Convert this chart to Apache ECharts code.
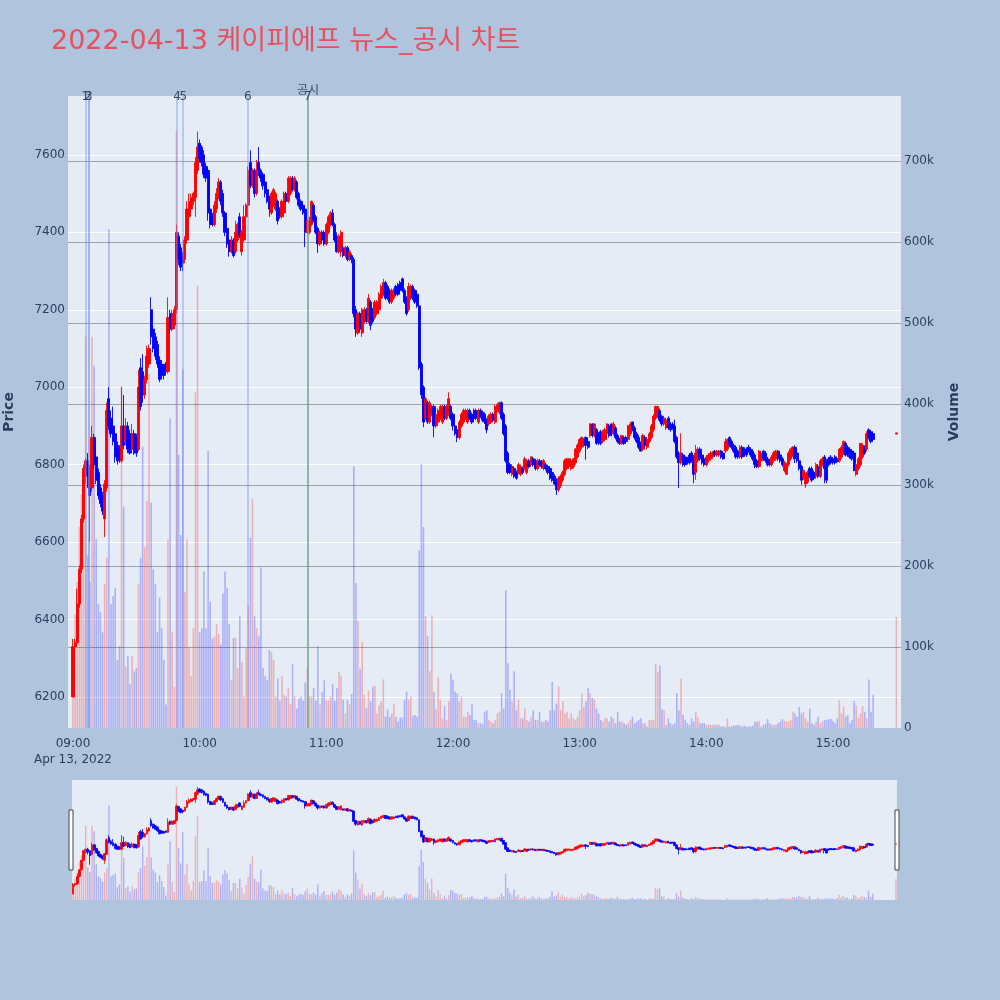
<!DOCTYPE html>
<html>
<head>
<meta charset="utf-8">
<script src="https://cdn.jsdelivr.net/npm/echarts@6/dist/echarts.min.js"></script>
<style>
html,body{margin:0;padding:0;background:#b0c4de;}
#chart{width:1000px;height:1000px;}
</style>
</head>
<body>
<div id="chart"></div>
<script>
// ---------------- DATA ----------------
const chartTitle = '2022-04-13 케이피에프 뉴스_공시 차트';
const dateLabel = 'Apr 13, 2022';
const sessionStartHour = 9;           // first candle = 09:00, one candle per minute
// [open, close, low, high] per minute from 09:00
const candles = [
[6200,6330,6200,6350],[6330,6340,6300,6350],[6340,6440,6330,6480],[6440,6530,6430,6540],[6530,6660,6520,6670],
[6660,6790,6650,6800],[6790,6810,6750,6816],[6810,6770,6740,6830],[6790,6720,6600,6800],[6740,6870,6730,6900],
[6870,6800,6790,6880],[6820,6760,6750,6830],[6780,6720,6710,6790],[6740,6700,6690,6750],[6720,6680,6670,6730],
[6660,6750,6613,6760],[6740,6940,6730,6960],[6970,6900,6890,7000],[6920,6880,6870,6940],[6900,6860,6850,6950],
[6880,6820,6805,6890],[6850,6810,6800,6860],[6840,6810,6805,6850],[6810,6900,6805,7000],[6900,6850,6840,6980],
[6860,6900,6850,6920],[6900,6840,6830,6910],[6880,6830,6826,6890],[6840,6880,6835,6905],[6880,6830,6825,6890],
[6870,6830,6820,6880],[6840,7000,6835,7045],[7050,6950,6940,7075],[7040,6980,6960,7085],[6980,7020,6970,7030],
[7020,7080,7010,7107],[7060,7100,7050,7110],[7200,7130,7110,7232],[7150,7100,7090,7160],[7130,7080,7070,7140],
[7110,7060,7050,7120],[7070,7020,7013,7080],[7060,7030,7020,7070],[7050,7030,7020,7060],[7060,7040,7030,7065],
[7040,7180,7035,7232],[7190,7150,7140,7200],[7150,7190,7145,7200],[7160,7200,7150,7210],[7200,7400,7190,7420],
[7390,7330,7315,7400],[7360,7310,7300,7370],[7340,7320,7300,7350],[7330,7380,7320,7390],[7380,7460,7370,7480],
[7440,7480,7430,7500],[7460,7490,7450,7500],[7480,7500,7470,7505],[7490,7580,7440,7595],[7560,7620,7550,7660],
[7630,7590,7580,7640],[7620,7580,7570,7625],[7600,7550,7540,7612],[7570,7540,7530,7580],[7560,7450,7430,7565],
[7460,7420,7410,7470],[7440,7420,7415,7450],[7420,7470,7415,7480],[7460,7500,7450,7514],[7490,7530,7485,7540],
[7530,7480,7470,7535],[7500,7450,7440,7510],[7450,7400,7390,7455],[7410,7370,7360,7415],[7380,7350,7337,7385],
[7350,7380,7345,7390],[7380,7340,7335,7385],[7350,7400,7345,7430],[7380,7420,7375,7425],[7440,7390,7385,7450],
[7350,7400,7340,7405],[7380,7440,7375,7470],[7440,7470,7435,7475],[7470,7560,7465,7570],[7580,7520,7514,7612],
[7520,7560,7515,7565],[7560,7500,7490,7565],[7500,7560,7495,7587],[7580,7560,7545,7620],[7560,7540,7530,7565],
[7550,7520,7510,7555],[7530,7500,7490,7535],[7510,7480,7475,7515],[7490,7460,7440,7495],[7450,7500,7445,7505],
[7470,7510,7465,7515],[7460,7500,7455,7505],[7480,7430,7420,7485],[7460,7440,7435,7465],[7440,7480,7435,7485],
[7450,7500,7445,7505],[7500,7480,7475,7505],[7480,7540,7475,7545],[7500,7540,7495,7545],[7540,7510,7505,7545],
[7510,7540,7505,7545],[7530,7490,7485,7535],[7500,7470,7465,7505],[7480,7460,7455,7485],[7470,7450,7445,7475],
[7460,7400,7362,7465],[7400,7430,7395,7435],[7400,7430,7395,7440],[7420,7480,7415,7482],[7470,7430,7425,7475],
[7440,7400,7395,7445],[7410,7370,7347,7415],[7370,7400,7365,7405],[7400,7380,7375,7405],[7400,7370,7365,7405],
[7370,7420,7365,7425],[7400,7440,7395,7445],[7420,7450,7415,7455],[7450,7420,7415,7460],[7420,7380,7375,7425],
[7390,7350,7347,7400],[7350,7390,7345,7395],[7350,7400,7337,7405],[7360,7340,7335,7365],[7340,7360,7335,7365],
[7360,7330,7325,7365],[7330,7350,7325,7355],[7340,7330,7320,7345],[7330,7190,7180,7336],[7200,7150,7130,7210],
[7140,7190,7135,7195],[7190,7150,7145,7195],[7140,7200,7130,7205],[7170,7200,7165,7207],[7200,7170,7165,7205],
[7170,7230,7165,7241],[7220,7160,7147,7225],[7200,7170,7165,7205],[7180,7220,7175,7225],[7190,7220,7185,7225],
[7200,7240,7195,7245],[7230,7260,7225,7265],[7240,7270,7235,7280],[7270,7230,7225,7275],[7260,7230,7225,7265],
[7250,7220,7215,7255],[7220,7250,7215,7255],[7230,7250,7225,7255],[7260,7240,7235,7265],[7265,7240,7235,7270],
[7270,7250,7245,7275],[7280,7250,7245,7283],[7250,7220,7215,7255],[7230,7190,7185,7235],[7200,7260,7195,7270],
[7230,7260,7225,7265],[7260,7230,7225,7265],[7250,7220,7215,7255],[7240,7210,7205,7245],[7210,7050,7045,7215],
[7060,6980,6970,7065],[7000,6910,6897,7005],[6920,6970,6915,6975],[6960,6910,6905,6965],[6910,6960,6905,6965],
[6930,6950,6925,6955],[6950,6900,6871,6955],[6900,6930,6895,6935],[6910,6940,6905,6945],[6920,6950,6915,6955],
[6910,6950,6905,6955],[6950,6920,6915,6955],[6920,6950,6915,6955],[6930,6970,6925,6987],[6950,6920,6915,6955],
[6930,6900,6888,6935],[6900,6880,6875,6905],[6890,6870,6858,6895],[6870,6910,6865,6915],[6900,6930,6895,6935],
[6910,6940,6905,6945],[6920,6940,6915,6945],[6910,6940,6905,6945],[6940,6920,6915,6945],[6930,6910,6905,6935],
[6940,6920,6915,6945],[6940,6920,6915,6945],[6910,6940,6905,6945],[6940,6925,6920,6945],[6935,6915,6910,6940],
[6930,6910,6905,6935],[6915,6890,6881,6920],[6905,6925,6900,6930],[6910,6930,6905,6935],[6930,6915,6910,6935],
[6910,6950,6905,6955],[6940,6955,6935,6960],[6935,6960,6930,6963],[6960,6920,6915,6963],[6930,6880,6875,6935],
[6900,6810,6805,6905],[6830,6780,6775,6835],[6800,6780,6775,6805],[6775,6795,6770,6800],[6790,6770,6765,6795],
[6780,6765,6761,6785],[6780,6800,6775,6805],[6775,6795,6770,6800],[6790,6780,6775,6795],[6790,6815,6785,6820],
[6780,6810,6775,6815],[6810,6795,6790,6815],[6800,6820,6795,6821],[6815,6800,6795,6820],[6810,6790,6785,6815],
[6790,6810,6785,6815],[6810,6800,6795,6815],[6808,6795,6790,6812],[6790,6810,6785,6815],[6800,6790,6785,6805],
[6795,6780,6775,6800],[6790,6765,6760,6795],[6780,6760,6755,6785],[6770,6750,6748,6775],[6760,6735,6722,6765],
[6735,6765,6730,6770],[6745,6770,6740,6775],[6760,6780,6755,6785],[6775,6810,6770,6815],[6790,6815,6785,6817],
[6795,6815,6790,6817],[6790,6810,6785,6815],[6795,6815,6790,6817],[6805,6840,6800,6843],[6820,6850,6815,6855],
[6835,6865,6830,6868],[6845,6870,6840,6873],[6850,6865,6845,6870],[6870,6850,6813,6873],[6860,6845,6840,6865],
[6875,6905,6870,6907],[6905,6875,6870,6907],[6875,6905,6870,6907],[6890,6855,6851,6895],[6880,6860,6851,6885],
[6885,6855,6850,6890],[6860,6885,6855,6890],[6865,6890,6860,6895],[6880,6905,6875,6907],[6900,6875,6870,6905],
[6905,6880,6873,6907],[6880,6905,6875,6911],[6895,6870,6865,6900],[6875,6860,6855,6880],[6865,6855,6851,6870],
[6855,6875,6851,6877],[6870,6855,6851,6875],[6870,6860,6855,6875],[6865,6900,6860,6903],[6880,6905,6875,6911],
[6910,6890,6886,6911],[6895,6870,6865,6900],[6880,6860,6855,6885],[6870,6845,6840,6877],[6855,6835,6834,6860],
[6840,6875,6835,6880],[6870,6850,6845,6875],[6845,6865,6840,6870],[6860,6880,6855,6885],[6870,6900,6865,6905],
[6890,6925,6885,6930],[6920,6950,6915,6952],[6925,6950,6920,6952],[6940,6915,6910,6945],[6925,6905,6899,6929],
[6905,6920,6900,6925],[6895,6915,6890,6920],[6920,6895,6890,6925],[6905,6890,6885,6910],[6905,6895,6890,6910],
[6900,6860,6855,6916],[6870,6820,6815,6875],[6830,6805,6740,6835],[6805,6830,6800,6881],[6825,6800,6795,6830],
[6820,6800,6795,6825],[6815,6805,6800,6820],[6825,6805,6800,6830],[6830,6810,6805,6835],[6820,6775,6752,6825],
[6780,6830,6761,6851],[6810,6840,6805,6845],[6840,6815,6810,6845],[6825,6805,6800,6830],[6815,6800,6795,6820],
[6800,6820,6795,6825],[6810,6825,6805,6830],[6815,6830,6810,6835],[6820,6830,6815,6835],[6835,6825,6820,6838],
[6825,6835,6820,6838],[6825,6835,6820,6838],[6835,6820,6815,6838],[6830,6815,6813,6835],[6835,6860,6830,6868],
[6840,6865,6835,6868],[6870,6850,6845,6873],[6860,6845,6840,6865],[6850,6835,6830,6855],[6845,6820,6815,6850],
[6835,6820,6815,6840],[6820,6845,6815,6850],[6845,6820,6815,6850],[6840,6825,6820,6845],[6840,6825,6820,6845],
[6845,6835,6830,6851],[6840,6825,6820,6845],[6835,6815,6810,6840],[6825,6800,6791,6830],[6810,6795,6791,6815],
[6795,6835,6791,6838],[6810,6830,6805,6835],[6835,6815,6810,6838],[6830,6810,6805,6835],[6815,6800,6795,6820],
[6810,6800,6795,6815],[6800,6820,6795,6825],[6810,6830,6805,6835],[6815,6835,6810,6838],[6835,6815,6810,6838],
[6825,6810,6805,6830],[6815,6800,6795,6820],[6785,6805,6780,6810],[6775,6800,6774,6805],[6800,6830,6795,6835],
[6815,6840,6810,6843],[6825,6845,6820,6848],[6845,6815,6804,6850],[6830,6810,6805,6835],[6810,6790,6785,6815],
[6795,6760,6748,6800],[6765,6785,6761,6787],[6750,6775,6740,6780],[6755,6780,6750,6785],[6790,6770,6765,6795],
[6790,6760,6755,6795],[6780,6765,6760,6785],[6770,6800,6765,6805],[6795,6770,6765,6800],[6770,6810,6765,6815],
[6800,6815,6795,6820],[6820,6790,6752,6825],[6810,6760,6752,6815],[6815,6800,6795,6820],[6820,6805,6800,6825],
[6815,6805,6800,6820],[6820,6805,6800,6825],[6815,6808,6805,6820],[6810,6840,6805,6843],[6820,6845,6815,6850],
[6830,6860,6825,6862],[6855,6825,6821,6860],[6845,6825,6820,6850],[6840,6820,6815,6845],[6835,6815,6810,6840],
[6830,6785,6783,6835],[6775,6800,6770,6805],[6790,6815,6785,6820],[6800,6855,6795,6856],[6820,6850,6815,6855],
[6845,6830,6825,6850],[6840,6880,6834,6886],[6890,6870,6865,6894],[6885,6860,6855,6890],[6880,6865,6860,6885]
];
// volume per minute (thousands of shares), aligned with candles
const volumes = [
100,140,180,248,288,263,483,213,180,483,
447,233,153,143,118,178,210,616,153,163,
173,84,101,422,273,76,89,54,89,70,
74,178,210,347,223,280,437,278,196,178,
118,161,123,84,29,233,382,118,51,737,
337,238,442,168,233,100,64,123,414,546,
118,123,193,123,342,156,110,113,128,116,
103,166,193,173,128,59,111,111,74,138,
81,39,98,151,235,283,138,123,113,198,
74,64,59,96,94,84,39,61,34,64,
41,39,49,29,79,39,24,36,39,34,
56,74,39,39,49,34,101,29,44,59,
34,34,39,54,34,49,69,64,35,18,
35,29,42,323,179,132,73,106,41,25,
46,33,51,52,18,28,33,60,14,23,
14,18,30,14,8,13,13,35,45,35,
39,15,16,14,219,326,248,138,113,70,
139,44,23,63,35,11,27,10,33,67,
59,45,43,33,39,14,14,20,16,30,
10,10,6,6,5,20,22,10,8,6,
10,18,20,43,24,170,80,47,33,70,
22,35,12,12,24,10,8,14,22,10,
10,20,8,8,10,8,22,57,22,30,
51,22,33,18,20,12,18,12,10,14,
22,43,26,33,49,43,37,35,24,18,
10,8,12,12,8,14,12,6,20,8,
8,6,4,6,10,14,6,8,10,12,
6,6,2,10,10,10,79,69,77,23,
22,4,12,6,4,6,43,22,61,16,
10,6,4,12,8,20,14,6,6,6,
4,4,4,4,4,4,4,2,2,2,
12,2,2,3,3,4,3,2,3,2,
2,2,3,8,8,9,2,4,5,11,
6,4,4,4,6,8,11,9,8,8,
10,20,18,14,26,18,20,12,8,24,
6,4,8,14,6,8,10,10,11,11,
9,6,12,34,18,26,14,16,6,10,
33,28,12,18,27,20,12,60,20,41
];
// closing auction (15:30)
const auctionMinute = 390;
const auctionCandle = [6879,6882,6879,6882];
const auctionVolume = 137;
// news / disclosure markers (minutes after 09:00)
const newsMarks = [
  {minute: 5.85, label: '1'}, {minute: 7.3, label: '2'}, {minute: 7.45, label: '3'},
  {minute: 49.3, label: '4'}, {minute: 52.2, label: '5'}, {minute: 82.75, label: '6'},
  {minute: 111.2, label: '7'}
];
const disclosureMarks = [{minute: 111.3, label: '공시'}];
// axis settings
const priceMin = 6120, priceMax = 7752, priceStep = 200;
const volMax = 780, volStep = 100;
const timeMin = -2.37, timeMax = 392.2, timeStep = 60;

// ---------------- BUILD ----------------
const UP = '#ff0000', DOWN = '#0000ff';
const UPV = 'rgba(255,0,0,0.25)', DOWNV = 'rgba(0,0,255,0.25)';
const FONT = "'DejaVu Sans', 'Noto Sans CJK KR', sans-serif";
const TXT = '#2a3f5f';

const allCandles = candles.concat([auctionCandle]);
const allVolumes = volumes.concat([auctionVolume]);
const xs = candles.map((c, i) => i).concat([auctionMinute]);

const candleData = allCandles.map((c, i) => [xs[i], c[0], c[1], c[2], c[3]]);
const volData = allVolumes.map((v, i) => ({
  value: [xs[i], v],
  itemStyle: {color: allCandles[i][1] >= allCandles[i][0] ? UPV : DOWNV}
}));

function timeLabel(v) {
  if (Math.abs(v % timeStep) > 1e-6) return '';
  const h = sessionStartHour + Math.round(v / 60);
  const s = (h < 10 ? '0' : '') + h + ':00';
  return Math.abs(v) < 1e-6 ? s + '\n' + dateLabel : s;
}

const markData = newsMarks.map(n => ({
  xAxis: n.minute, name: n.label,
  lineStyle: {color: 'rgba(120,150,240,0.55)', width: 1.5, type: 'solid'},
  label: {distance: -7}
})).concat(disclosureMarks.map(n => ({
  xAxis: n.minute, name: n.label,
  lineStyle: {color: 'rgba(110,170,110,0.75)', width: 1.5, type: 'solid'},
  label: {distance: -1}
})));

const chart = echarts.init(document.getElementById('chart'), null, {renderer: 'canvas'});
chart.setOption({
  animation: false,
  backgroundColor: '#b0c4de',
  title: {
    text: chartTitle, left: 46, top: 23,
    textStyle: {color: '#e8505e', fontSize: 27, fontWeight: 'normal', fontFamily: FONT}
  },
  grid: [
    {left: 68, top: 96, width: 833, height: 632, show: true, backgroundColor: '#e5ecf6', borderWidth: 0,
     containLabel: false, outerBoundsMode: 'none'},
    {left: 72, top: 780, width: 825, height: 120, show: true, backgroundColor: '#e5ecf6', borderWidth: 0,
     containLabel: false, outerBoundsMode: 'none'}
  ],
  xAxis: [
    {
      gridIndex: 0, type: 'value', min: timeMin, max: timeMax,
      minInterval: timeStep, maxInterval: timeStep,
      axisLine: {show: false}, axisTick: {show: false}, splitLine: {show: false},
      axisLabel: {formatter: timeLabel, color: TXT, fontSize: 12, fontFamily: FONT, margin: 8, lineHeight: 16,
        showMinLabel: true, showMaxLabel: false}
    },
    {gridIndex: 1, type: 'value', min: -0.5, max: 390.5, show: false}
  ],
  yAxis: [
    {
      gridIndex: 0, type: 'value', position: 'left', min: priceMin, max: priceMax,
      minInterval: priceStep, maxInterval: priceStep,
      name: 'Price', nameLocation: 'middle', nameRotate: 90, nameGap: 52,
      nameTextStyle: {color: TXT, fontSize: 14, fontWeight: 'bold', fontFamily: FONT},
      axisLine: {show: false}, axisTick: {show: false},
      axisLabel: {formatter: v => (v % priceStep === 0 ? String(v) : ''), color: TXT, fontSize: 12, fontFamily: FONT, margin: 3},
      splitLine: {show: true, showMinLine: false, showMaxLine: false, lineStyle: {color: '#ffffff', width: 1}}
    },
    {
      gridIndex: 0, type: 'value', position: 'right', min: 0, max: volMax, interval: volStep,
      name: 'Volume', nameLocation: 'middle', nameRotate: 90, nameGap: 46,
      nameTextStyle: {color: TXT, fontSize: 14, fontWeight: 'bold', fontFamily: FONT},
      axisLine: {show: false}, axisTick: {show: false},
      axisLabel: {formatter: v => (v % volStep !== 0 ? '' : (v === 0 ? '0' : v + 'k')), color: TXT, fontSize: 12, fontFamily: FONT, margin: 3},
      splitLine: {show: true, showMinLine: false, showMaxLine: false, lineStyle: {color: '#9ea3aa', width: 1.2}}
    },
    {gridIndex: 1, type: 'value', min: priceMin, max: priceMax, show: false},
    {gridIndex: 1, type: 'value', min: 0, max: volMax, show: false}
  ],
  series: [
    {
      type: 'bar', xAxisIndex: 0, yAxisIndex: 1, data: volData, barWidth: 1.6,
      silent: true, z: 2
    },
    {
      type: 'candlestick', xAxisIndex: 0, yAxisIndex: 0, data: candleData,
      encode: {x: 0, y: [1, 2, 3, 4]}, barWidth: 2.6, silent: true, z: 3,
      itemStyle: {color: UP, color0: DOWN, borderColor: UP, borderColor0: DOWN, borderWidth: 0.9},
      markLine: {
        symbol: ['none', 'none'], silent: true, animation: false,
        label: {show: true, position: 'end', formatter: '{b}', color: '#3b4a63', fontSize: 12, fontFamily: FONT},
        data: markData
      }
    },
    {
      type: 'bar', xAxisIndex: 1, yAxisIndex: 3, data: volData, barWidth: 1.4, silent: true, z: 2
    },
    {
      type: 'candlestick', xAxisIndex: 1, yAxisIndex: 2, data: candleData,
      encode: {x: 0, y: [1, 2, 3, 4]}, barWidth: 2.2, silent: true, z: 3,
      itemStyle: {color: UP, color0: DOWN, borderColor: UP, borderColor0: DOWN, borderWidth: 0.8}
    }
  ],
  graphic: [
    {type: 'rect', shape: {x: 69, y: 810, width: 4, height: 60}, style: {fill: '#ffffff', stroke: '#444444', lineWidth: 1}},
    {type: 'rect', shape: {x: 895, y: 810, width: 4, height: 60}, style: {fill: '#ffffff', stroke: '#444444', lineWidth: 1}}
  ]
});
</script>
</body>
</html>
